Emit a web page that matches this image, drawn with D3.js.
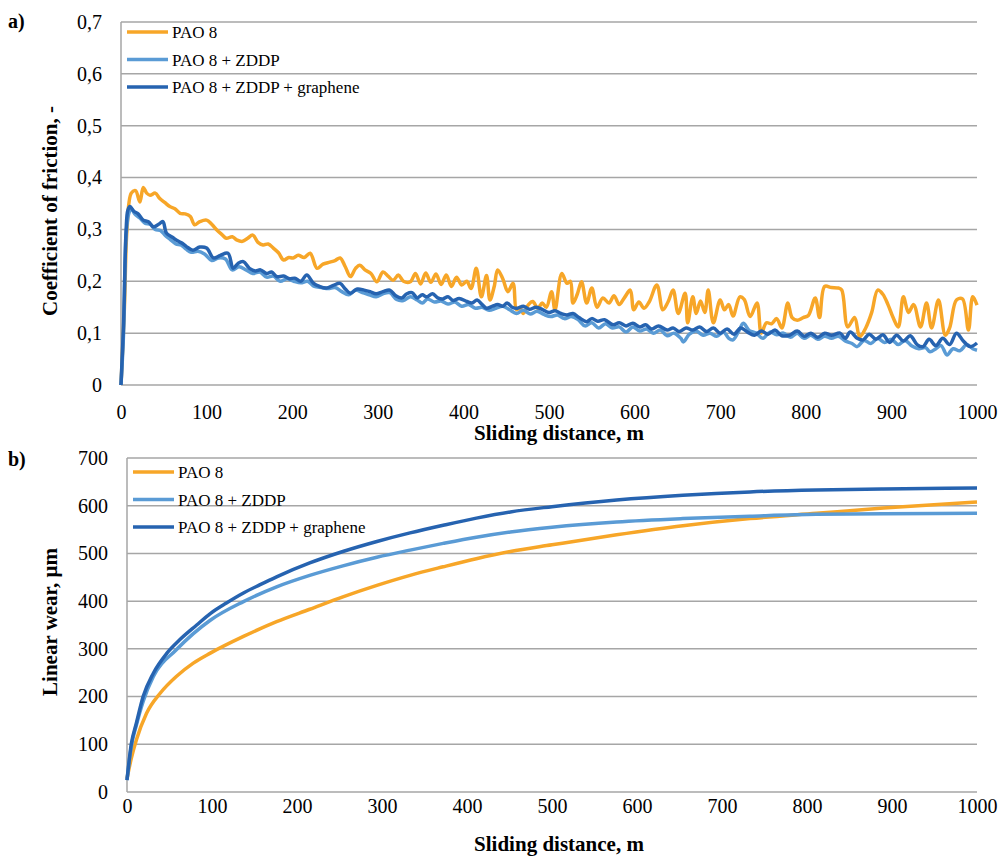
<!DOCTYPE html>
<html>
<head>
<meta charset="utf-8">
<script src="https://cdn.jsdelivr.net/npm/d3@7"></script>
<style>
  body { margin: 0; background: #fff; }
</style>
</head>
<body>
<div id="chart"></div>
<script>
var w = 1000;
var h = 856;
var serif = "'Liberation Serif', 'Times New Roman', serif";

// series names and colours
var seriesNames = ["PAO 8", "PAO 8 + ZDDP", "PAO 8 + ZDDP + graphene"];
var seriesColors = ["#f7a628", "#5a9bd5", "#2663b0"];

// tick labels
var cofTicks = [0, 0.1, 0.2, 0.3, 0.4, 0.5, 0.6, 0.7];
var wearTicks = [0, 100, 200, 300, 400, 500, 600, 700];
var distTicks = [0, 100, 200, 300, 400, 500, 600, 700, 800, 900, 1000];

// a) coefficient of friction, [distance m, cof]
var cofPAO8 = [[0,0],[4,0.15],[7,0.3],[12,0.37],[17,0.375],[22,0.353],[26,0.381],[30,0.37],[34,0.366],[40,0.37],[45,0.36],[51,0.352],[57,0.344],[63,0.34],[69,0.331],[75,0.33],[81,0.325],[86,0.309],[92,0.315],[100,0.318],[106,0.31],[112,0.299],[118,0.29],[123,0.283],[130,0.286],[135,0.28],[142,0.277],[148,0.283],[154,0.289],[160,0.275],[166,0.27],[172,0.272],[178,0.264],[184,0.255],[190,0.241],[196,0.246],[201,0.245],[207,0.25],[214,0.246],[221,0.254],[229,0.225],[236,0.233],[244,0.237],[250,0.24],[256,0.245],[262,0.228],[268,0.209],[274,0.225],[279,0.231],[285,0.222],[292,0.215],[299,0.199],[306,0.218],[312,0.21],[318,0.202],[324,0.212],[330,0.2],[338,0.199],[344,0.215],[350,0.195],[356,0.216],[362,0.198],[368,0.214],[374,0.194],[380,0.212],[386,0.19],[392,0.208],[398,0.193],[404,0.2],[409,0.186],[415,0.225],[421,0.17],[427,0.211],[431,0.164],[436,0.19],[440,0.222],[446,0.205],[452,0.18],[458,0.196],[462,0.145],[466,0.15],[470,0.138],[476,0.155],[481,0.161],[487,0.148],[492,0.158],[497,0.15],[503,0.18],[507,0.145],[515,0.215],[521,0.196],[525,0.2],[528,0.158],[533,0.175],[538,0.199],[544,0.158],[550,0.187],[556,0.15],[563,0.168],[570,0.158],[576,0.172],[582,0.155],[588,0.168],[595,0.183],[599,0.145],[605,0.16],[611,0.148],[617,0.16],[626,0.193],[633,0.145],[639,0.16],[645,0.183],[651,0.138],[659,0.177],[662,0.12],[668,0.17],[672,0.138],[677,0.162],[682,0.14],[686,0.183],[692,0.12],[700,0.164],[705,0.145],[710,0.155],[715,0.133],[723,0.17],[728,0.165],[735,0.132],[743,0.158],[748,0.1],[754,0.12],[760,0.118],[766,0.128],[772,0.11],[779,0.158],[784,0.13],[790,0.125],[797,0.13],[803,0.134],[811,0.168],[816,0.13],[822,0.19],[830,0.188],[838,0.187],[842,0.183],[849,0.112],[857,0.13],[863,0.093],[870,0.11],[877,0.14],[884,0.183],[890,0.175],[896,0.155],[902,0.13],[908,0.112],[914,0.17],[920,0.14],[926,0.155],[934,0.112],[941,0.158],[947,0.11],[955,0.164],[963,0.096],[968,0.11],[976,0.164],[983,0.166],[990,0.106],[995,0.17],[1000,0.154]];

var cofZDDP = [[0,0],[3,0.1],[6,0.29],[9,0.33],[12,0.34],[16,0.33],[22,0.322],[28,0.312],[34,0.31],[40,0.3],[46,0.298],[52,0.288],[58,0.28],[64,0.272],[70,0.27],[76,0.262],[82,0.256],[90,0.258],[98,0.252],[106,0.24],[114,0.245],[122,0.243],[130,0.222],[138,0.228],[146,0.222],[154,0.215],[162,0.218],[170,0.208],[178,0.21],[186,0.2],[194,0.205],[202,0.2],[210,0.197],[218,0.2],[226,0.19],[234,0.188],[242,0.186],[250,0.188],[258,0.18],[266,0.174],[274,0.183],[282,0.178],[290,0.174],[298,0.17],[306,0.176],[314,0.178],[322,0.165],[330,0.163],[338,0.17],[346,0.164],[352,0.158],[358,0.166],[366,0.16],[374,0.162],[382,0.156],[390,0.16],[398,0.152],[406,0.155],[414,0.148],[422,0.15],[430,0.144],[438,0.148],[446,0.152],[454,0.145],[462,0.138],[470,0.144],[478,0.137],[486,0.142],[494,0.136],[502,0.132],[510,0.135],[518,0.128],[526,0.132],[534,0.126],[542,0.114],[550,0.12],[558,0.11],[566,0.118],[574,0.11],[582,0.112],[590,0.102],[598,0.112],[606,0.104],[614,0.108],[622,0.1],[630,0.106],[638,0.095],[646,0.1],[654,0.09],[657,0.083],[664,0.098],[672,0.104],[680,0.096],[688,0.1],[696,0.094],[704,0.102],[710,0.09],[715,0.087],[722,0.105],[727,0.119],[734,0.105],[742,0.1],[750,0.09],[758,0.102],[766,0.097],[774,0.1],[782,0.092],[790,0.1],[798,0.09],[806,0.096],[814,0.088],[822,0.094],[830,0.09],[838,0.094],[846,0.085],[854,0.08],[860,0.074],[868,0.086],[876,0.08],[884,0.09],[892,0.082],[900,0.088],[908,0.078],[916,0.086],[924,0.075],[932,0.07],[940,0.072],[945,0.064],[952,0.07],[958,0.076],[965,0.058],[972,0.07],[980,0.066],[988,0.078],[995,0.07],[1000,0.067]];

var cofGraphene = [[0,0],[3,0.12],[6,0.3],[8,0.337],[10.5,0.344],[15,0.335],[20,0.33],[26,0.318],[32,0.315],[38,0.305],[44,0.31],[49,0.315],[53,0.293],[60,0.285],[66,0.278],[72,0.273],[78,0.265],[84,0.26],[92,0.266],[100,0.264],[108,0.245],[116,0.25],[125,0.254],[131,0.225],[137,0.235],[143,0.238],[150,0.225],[157,0.22],[163,0.222],[170,0.215],[176,0.218],[182,0.209],[190,0.21],[197,0.205],[203,0.206],[210,0.2],[217,0.212],[225,0.196],[232,0.19],[240,0.187],[248,0.192],[256,0.196],[262,0.185],[268,0.177],[276,0.185],[284,0.183],[291,0.18],[298,0.176],[306,0.18],[314,0.183],[321,0.172],[328,0.168],[334,0.176],[340,0.178],[346,0.168],[352,0.174],[357,0.17],[364,0.176],[370,0.168],[376,0.166],[382,0.17],[388,0.163],[395,0.167],[404,0.161],[410,0.158],[416,0.164],[422,0.155],[427,0.148],[434,0.152],[440,0.155],[446,0.152],[451,0.158],[457,0.15],[463,0.148],[470,0.152],[477,0.146],[485,0.15],[493,0.145],[500,0.14],[507,0.143],[514,0.138],[521,0.135],[528,0.138],[535,0.13],[544,0.122],[550,0.128],[557,0.123],[565,0.126],[575,0.116],[582,0.12],[590,0.114],[598,0.119],[606,0.112],[613,0.116],[620,0.108],[628,0.114],[638,0.106],[645,0.11],[652,0.103],[660,0.11],[668,0.106],[676,0.112],[684,0.103],[692,0.11],[700,0.1],[708,0.108],[716,0.098],[724,0.11],[732,0.102],[740,0.096],[748,0.104],[756,0.098],[764,0.106],[772,0.095],[781,0.096],[790,0.104],[798,0.094],[806,0.1],[814,0.092],[822,0.1],[830,0.096],[840,0.1],[846,0.09],[852,0.102],[860,0.09],[867,0.087],[874,0.098],[882,0.088],[890,0.097],[898,0.082],[906,0.096],[914,0.085],[922,0.095],[930,0.078],[937,0.074],[944,0.088],[952,0.076],[960,0.09],[968,0.078],[976,0.1],[984,0.085],[992,0.074],[1000,0.081]];

// b) linear wear, [distance m, wear um]
var wearPAO8 = [[0,28],[5,70],[11,109],[23,165],[39,207],[58,242],[78,270],[98,291],[137,326],[176,357],[215,383],[254,409],[294,433],[333,454],[372,472],[411,489],[451,504],[500,518],[576,539],[654,558],[733,573],[811,584],[890,595],[1000,608]];
var wearZDDP = [[0,25],[5,95],[11,140],[19,190],[31,242],[58,298],[98,360],[137,399],[176,430],[215,454],[254,474],[294,492],[333,507],[372,521],[411,534],[451,545],[500,555],[576,566],[654,573],[733,578],[811,582],[890,583],[1000,584]];
var wearGraphene = [[0,25],[5,100],[11,144],[19,200],[31,249],[47,291],[62,319],[82,350],[98,374],[117,396],[137,417],[156,434],[176,451],[215,480],[254,504],[294,525],[333,543],[372,559],[411,574],[451,587],[500,598],[576,612],[654,622],[733,629],[811,633],[890,635],[1000,637]];

var commaFmt = d3.formatLocale({decimal: ",", thousands: " ", grouping: [3], currency: ["", ""]}).format(".1~f");

var svg = d3.select("#chart")
  .append("svg")
  .attr("width", w)
  .attr("height", h);

function drawPanel(opts) {
  var x = d3.scaleLinear().domain([0, 1000]).range([opts.left, opts.right]);
  var y = d3.scaleLinear().domain([0, opts.yMax]).range([opts.bottom, opts.top]);

  // grid lines
  svg.append("g")
    .selectAll("line")
    .data(opts.yTicks)
    .enter().append("line")
    .attr("x1", opts.left)
    .attr("x2", opts.right)
    .attr("y1", function(d) { return y(d); })
    .attr("y2", function(d) { return y(d); })
    .attr("stroke", "#a6a6a6")
    .attr("stroke-width", 1.5);

  // left axis line
  svg.append("line")
    .attr("x1", opts.left).attr("x2", opts.left)
    .attr("y1", opts.top).attr("y2", opts.bottom)
    .attr("stroke", "#a6a6a6")
    .attr("stroke-width", 1.5);

  var yAxis = svg.append("g")
    .attr("transform", "translate(" + opts.labelRight + ",0)")
    .call(d3.axisLeft(y).tickValues(opts.yTicks).tickSize(0).tickPadding(0).tickFormat(opts.yFmt));
  yAxis.select(".domain").remove();
  yAxis.selectAll("text")
    .style("font-family", serif)
    .style("font-size", "20px")
    .attr("fill", "#000");

  var xAxis = svg.append("g")
    .attr("transform", "translate(0," + opts.xLabelY + ")")
    .call(d3.axisBottom(x).tickValues(distTicks).tickSize(0).tickPadding(0).tickFormat(d3.format("d")));
  xAxis.select(".domain").remove();
  xAxis.selectAll("text")
    .style("font-family", serif)
    .style("font-size", "20px")
    .attr("fill", "#000")
    .attr("dy", "0")
    .attr("y", 0);

  var line = d3.line()
    .x(function(d) { return x(d[0]); })
    .y(function(d) { return y(d[1]); })
    .curve(opts.curve);

  svg.append("g")
    .selectAll("path")
    .data(opts.series)
    .enter().append("path")
    .attr("d", function(d) { return line(d); })
    .attr("fill", "none")
    .attr("stroke", function(d, i) { return seriesColors[i]; })
    .attr("stroke-width", opts.lineWidth)
    .attr("stroke-linejoin", "round");

  // legend
  var legend = svg.append("g")
    .selectAll("g")
    .data(seriesNames)
    .enter().append("g")
    .attr("transform", function(d, i) {
      return "translate(" + opts.legendX + "," + (opts.legendY + i * 27.5) + ")";
    });
  legend.append("line")
    .attr("x1", 0).attr("x2", 41)
    .attr("stroke", function(d, i) { return seriesColors[i]; })
    .attr("stroke-width", 3.5);
  legend.append("text")
    .attr("x", 45)
    .attr("y", 6)
    .style("font-family", serif)
    .style("font-size", "17px")
    .text(function(d) { return d; });

  // axis titles
  svg.append("text")
    .attr("x", 559)
    .attr("y", opts.xTitleY)
    .attr("text-anchor", "middle")
    .style("font-family", serif)
    .style("font-size", "21px")
    .style("font-weight", "bold")
    .text("Sliding distance, m");

  svg.append("text")
    .attr("transform", "translate(57," + opts.yTitleMid + ") rotate(-90)")
    .attr("text-anchor", "middle")
    .style("font-family", serif)
    .style("font-size", "21px")
    .style("font-weight", "bold")
    .text(opts.yTitle);

  svg.append("text")
    .attr("x", 8)
    .attr("y", opts.tagY)
    .style("font-family", serif)
    .style("font-size", "20px")
    .style("font-weight", "bold")
    .text(opts.tag);
}

drawPanel({
  left: 121, right: 977, top: 22, bottom: 385,
  yMax: 0.7, yTicks: cofTicks, yFmt: commaFmt,
  labelRight: 102, xLabelY: 419, xTitleY: 440,
  yTitle: "Coefficient of friction, -", yTitleMid: 211,
  series: [cofPAO8, cofZDDP, cofGraphene],
  curve: d3.curveCatmullRom, lineWidth: 3.5,
  legendX: 127, legendY: 32,
  tag: "a)", tagY: 28
});

drawPanel({
  left: 127, right: 977, top: 458, bottom: 792,
  yMax: 700, yTicks: wearTicks, yFmt: d3.format("d"),
  labelRight: 108, xLabelY: 813, xTitleY: 851,
  yTitle: "Linear wear, \u03bcm", yTitleMid: 622,
  series: [wearPAO8, wearZDDP, wearGraphene],
  curve: d3.curveMonotoneX, lineWidth: 3.5,
  legendX: 133, legendY: 472,
  tag: "b)", tagY: 466
});
</script>
</body>
</html>
